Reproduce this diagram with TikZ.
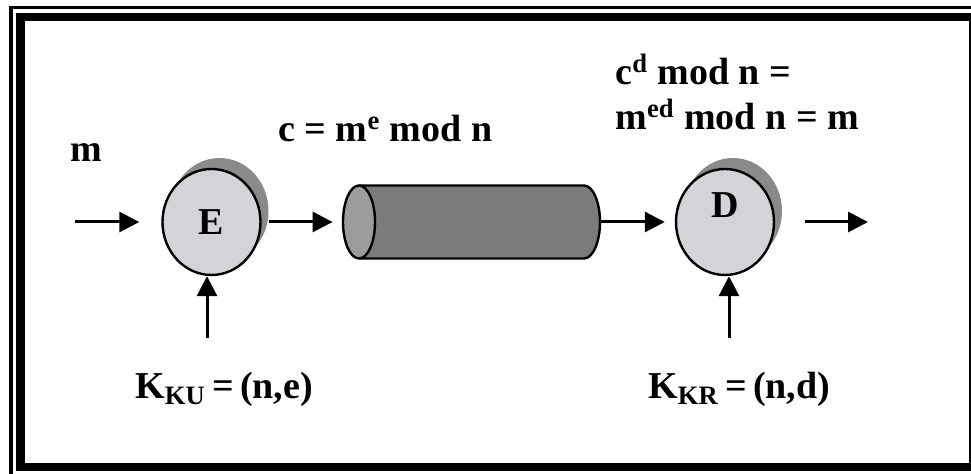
\documentclass[tikz,border=0pt]{standalone}
\usepackage{fontspec}
\setmainfont{Liberation Serif}
\usetikzlibrary{arrows.meta,positioning,shapes.geometric,shadows}
\definecolor{discfill}{HTML}{D4D3D8}
\definecolor{discshade}{HTML}{8A8A8A}
\definecolor{pipebody}{HTML}{7B7C7A}
\definecolor{pipeend}{HTML}{9C9D9B}

\begin{document}
\begin{tikzpicture}[x=0.5pt,y=-0.5pt,
			disco/.style={draw,line width=1.2pt,fill=discfill,ellipse,minimum width=49pt,minimum height=53pt,inner sep=0pt,
				drop shadow={shadow xshift=4pt,shadow yshift=5.5pt,fill=discshade,opacity=1},font=\fontsize{19}{23}\selectfont\bfseries},
			tubo/.style={rectangle,minimum width=128.5pt,minimum height=36.5pt,inner sep=0pt},
			borde/.style={line width=1.2pt,line join=round},
			texto/.style={inner sep=0pt,anchor=base west,font=\fontsize{19}{23}\selectfont\bfseries},
			flecha/.style={draw,line width=1.5pt,-{Triangle[length=10pt,width=10pt]}}
			]
			\useasboundingbox (0,0) rectangle (971,474);
			\draw[line width=1.75pt] (11,7.5) rectangle (990,490);
			\draw[line width=4.25pt] (20.5,17) rectangle (973.5,467);
			\node[disco] (E) at (211.5,222) {E};
			% the pipe
			\node[tubo] (pipe) at (471.5,222) {};
			\draw[borde,fill=pipebody] (359,185.5) -- (584,185.5)
				arc[start angle=90,end angle=-90,x radius=8pt,y radius=18.25pt] -- (359,258.5) -- cycle;
			\draw[borde,fill=pipeend] (359,222) ellipse [x radius=8pt,y radius=18.25pt];
			\node[disco,label={[yshift=8.5pt,font=\fontsize{19}{23}\selectfont\bfseries]center:D}] (D) at (725,222) {};
			\coordinate (mIn) at (75,222);
			\coordinate (mOut) at (868,222);
			\coordinate (kE) at (207,338);
			\coordinate (kD) at (729,338);
			\draw[flecha,shorten >=11pt] (mIn) -- (E.west);
			\draw[flecha,shorten <=3.5pt,shorten >=5pt] (E.east) -- (pipe.west);
			\draw[flecha,shorten >=5pt] (pipe.east) -- (D.west);
			\draw[flecha,shorten <=15pt] (D.east) -- (mOut);
			\draw[flecha] (kE) -- (kE |- E.south);
			\draw[flecha] (kD) -- (kD |- D.south);
			\node[texto] (msg) at (70,162) {m};
			\node[texto] (cif) at (278,142) {c = m\textsuperscript{e} mod n};
			\node[texto] (dec1) at (615,85) {c\textsuperscript{d} mod n =};
			\node[texto] (dec2) at (615,130) {m\textsuperscript{ed} mod n = m};
			\node[texto] (kpub) at (135,399) {K\textsubscript{KU}\,=\,(n,e)};
			\node[texto] (kpriv) at (648,399) {K\textsubscript{KR}\,=\,(n,d)};
		\end{tikzpicture}
\end{document}
